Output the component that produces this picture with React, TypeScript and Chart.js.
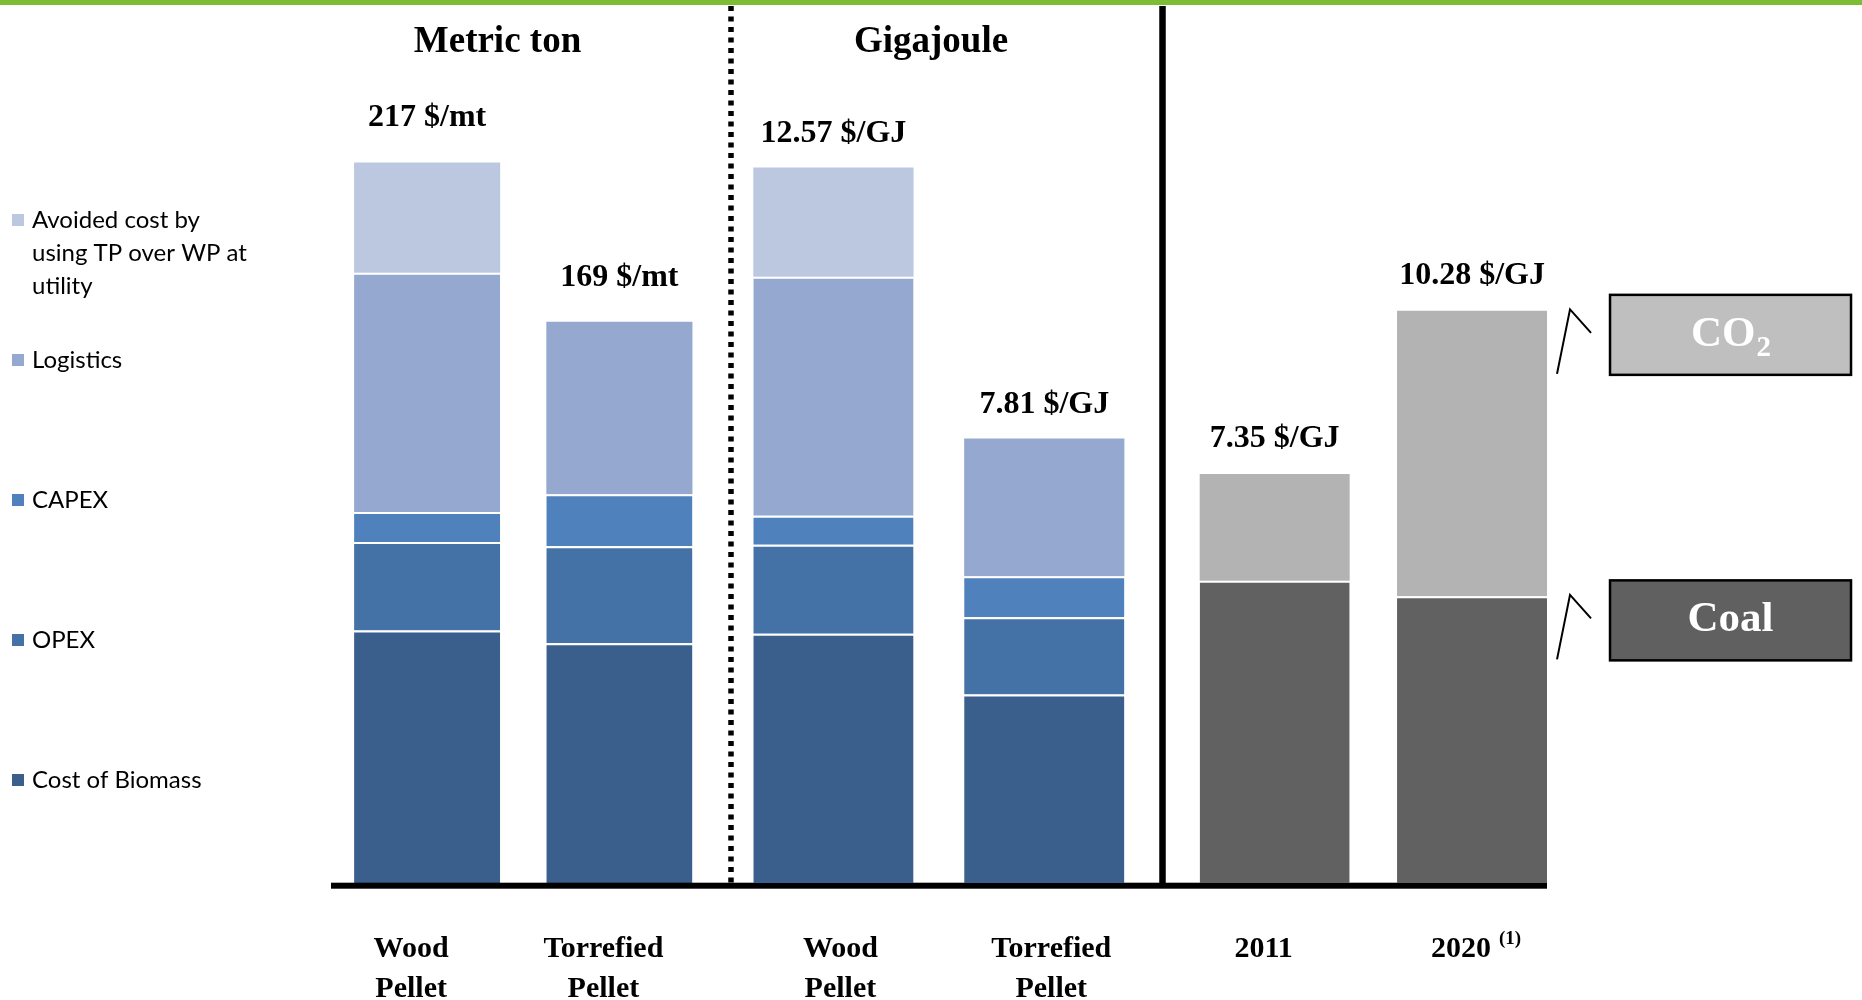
import React, { useEffect, useRef } from 'react';
import { Chart, registerables } from 'chart.js';

Chart.register(...registerables);

const W = 1862;
const H = 1000;
const SERIF = '"Liberation Serif", "Times New Roman", serif';
const SANS = 'Lato, "Open Sans", sans-serif';

// ---------------- data ----------------
const pelletCategories = [['Wood', 'Pellet'], ['Torrefied', 'Pellet']];
const coalCategories = ['2011', '2020'];
const coalFootnotes = ['', '(1)'];
const panelTitles = ['Metric ton', 'Gigajoule'];

const costSeries = [
  'Cost of Biomass',
  'OPEX',
  'CAPEX',
  'Logistics',
  'Avoided cost by using TP over WP at utility',
];

// $ per metric ton
const biomassPerTon = [76.0, 72.2];
const opexPerTon = [26.7, 29.2];
const capexPerTon = [9.0, 15.7];
const logisticsPerTon = [72.1, 51.9];
const avoidedPerTon = [33.2, 0];

// $ per gigajoule
const biomassPerGJ = [4.38, 3.31];
const opexPerGJ = [1.56, 1.36];
const capexPerGJ = [0.51, 0.72];
const logisticsPerGJ = [4.2, 2.42];
const avoidedPerGJ = [1.92, 0];

// coal reference, $ per gigajoule
const coalSeries = ['Coal', 'CO\u2082'];
const coalCost = [5.43, 5.15];
const co2Cost = [1.92, 5.13];

// ---------------- styles ----------------
const costColors = ['#3b5f8d', '#4472a7', '#4f81bd', '#95a9d0', '#bcc8e0'];
const coalColors = ['#616161', '#b3b3b3'];
const coalBoxFills = ['#606060', '#bfbfbf'];
const TICK_SIZE = 30;
const TICK_LH = 1.31;
const TICK_PAD = 39;

const separator = (c: any) => {
  if (c.type !== 'data') return 0;
  const ds = c.chart.data.datasets;
  for (let k = c.datasetIndex + 1; k < ds.length; k++) {
    const v = ds[k].data[c.dataIndex];
    if (v != null && v > 0) return { top: 2, right: 0, bottom: 0, left: 0 };
  }
  return 0;
};

const totalsPlugin = {
  id: 'totals',
  afterDatasetsDraw(chart: any, _args: any, opts: any) {
    const c = chart.ctx;
    const n = chart.data.labels.length;
    c.save();
    c.font = `bold 32px ${SERIF}`;
    c.fillStyle = '#000';
    c.textAlign = 'center';
    c.textBaseline = 'alphabetic';
    for (let i = 0; i < n; i++) {
      let total = 0;
      let topY = Infinity;
      let x = 0;
      chart.data.datasets.forEach((ds: any, d: number) => {
        const v = ds.data[i];
        if (v == null) return;
        total += v;
        const el = chart.getDatasetMeta(d).data[i];
        if (el && el.y < topY) {
          topY = el.y;
          x = el.x;
        }
      });
      c.fillText(`${total.toFixed(opts.decimals)} ${opts.unit}`, x, topY - opts.offset);
    }
    c.restore();
  },
};

function wrapText(c: CanvasRenderingContext2D, text: string, maxW: number) {
  const words = text.split(' ');
  const lines: string[] = [];
  let cur = '';
  words.forEach((w) => {
    const t = cur ? cur + ' ' + w : w;
    if (c.measureText(t).width > maxW && cur) {
      lines.push(cur);
      cur = w;
    } else cur = t;
  });
  if (cur) lines.push(cur);
  return lines;
}

const decorPlugin = {
  id: 'decor',
  afterDraw(chart: any) {
    const c = chart.ctx as CanvasRenderingContext2D;
    c.save();
    // top green rule
    c.fillStyle = '#7cbd34';
    c.fillRect(0, 0, W, 5);
    // dotted divider
    c.strokeStyle = '#000';
    c.lineWidth = 5.5;
    c.setLineDash([5, 5.5]);
    c.beginPath();
    c.moveTo(731, 6);
    c.lineTo(731, 883);
    c.stroke();
    // solid divider
    c.setLineDash([]);
    c.lineWidth = 6.5;
    c.beginPath();
    c.moveTo(1162.5, 6);
    c.lineTo(1162.5, 884);
    c.stroke();
    // baseline
    c.fillStyle = '#000';
    c.fillRect(331, 882.7, 1547 - 331, 6);
    // panel titles
    c.font = `bold 37px ${SERIF}`;
    c.textAlign = 'center';
    c.textBaseline = 'alphabetic';
    c.fillText(panelTitles[0], 497.5, 52);
    c.fillText(panelTitles[1], 931, 52);
    // legend
    const items = chart.data.datasets
      .map((d: any) => ({ label: d.label, color: d.backgroundColor }))
      .reverse();
    c.font = `24px ${SANS}`;
    c.textAlign = 'left';
    items.forEach((it: any, i: number) => {
      const cy = 220 + i * 140;
      c.fillStyle = it.color;
      c.fillRect(12, cy - 6, 12, 12);
      c.fillStyle = '#000';
      const lines = wrapText(c, it.label, 225);
      lines.forEach((ln, j) => c.fillText(ln, 32, cy + 7.5 + j * 33));
    });
    c.restore();
  },
};

const footnotePlugin = {
  id: 'footnotes',
  afterDraw(chart: any) {
    const c = chart.ctx as CanvasRenderingContext2D;
    const sx = chart.scales.x;
    const offset = sx.options.ticks.labelOffset || 0;
    const mid = sx.top + TICK_PAD + (TICK_SIZE * TICK_LH) / 2;
    const baseline = mid + 0.3375 * TICK_SIZE;
    c.save();
    c.fillStyle = '#000';
    c.textBaseline = 'alphabetic';
    c.textAlign = 'left';
    coalFootnotes.forEach((note, i) => {
      if (!note) return;
      c.font = `bold ${TICK_SIZE}px ${SERIF}`;
      const w = c.measureText(String(chart.data.labels[i])).width;
      const x = sx.getPixelForTick(i) + offset + w / 2 + 8;
      c.font = `bold 19px ${SERIF}`;
      c.fillText(note, x, baseline - 7.7);
    });
    c.restore();
  },
};

const calloutPlugin = {
  id: 'callouts',
  afterDatasetsDraw(chart: any) {
    const c = chart.ctx as CanvasRenderingContext2D;
    c.save();
    chart.data.datasets.forEach((ds: any, d: number) => {
      const meta = chart.getDatasetMeta(d);
      const el = meta.data[meta.data.length - 1];
      const right = el.x + el.width / 2;
      const top = el.y;
      c.strokeStyle = '#000';
      c.lineWidth = 2;
      c.beginPath();
      c.moveTo(right + 10, top + 63);
      c.lineTo(right + 23, top - 1.5);
      c.lineTo(right + 44, top + 22);
      c.stroke();
      const bx = right + 63;
      const by = top - 16;
      const bw = 241;
      const bh = 80;
      c.fillStyle = coalBoxFills[d];
      c.fillRect(bx, by, bw, bh);
      c.lineWidth = 2.5;
      c.strokeRect(bx, by, bw, bh);
      c.fillStyle = '#fff';
      c.textBaseline = 'alphabetic';
      c.textAlign = 'left';
      const label: string = ds.label;
      const big = `bold 43px ${SERIF}`;
      const small = `bold 29px ${SERIF}`;
      const cx = bx + bw / 2;
      const base = by + 51;
      if (label.endsWith('\u2082')) {
        const main = label.slice(0, -1);
        c.font = big;
        const w1 = c.measureText(main).width;
        c.font = small;
        const w2 = c.measureText('2').width;
        const x0 = cx - (w1 + w2) / 2;
        c.font = big;
        c.fillText(main, x0, base);
        c.font = small;
        c.fillText('2', x0 + w1 + 1, base + 10);
      } else {
        c.font = big;
        c.textAlign = 'center';
        c.fillText(label, cx, base);
      }
    });
    c.restore();
  },
};

function makeConfig(o: {
  labels: any[];
  series: string[];
  values: number[][];
  colors: string[];
  yMax: number;
  padLeft: number;
  padRight: number;
  labelOffset: number;
  totals: { unit: string; decimals: number; offset: number };
  plugins: any[];
}): any {
  return {
    type: 'bar',
    data: {
      labels: o.labels,
      datasets: o.series.map((name, k) => ({
        label: name,
        data: o.values[k],
        backgroundColor: o.colors[k],
        borderColor: '#ffffff',
        borderWidth: separator,
        borderSkipped: false,
        barPercentage: 0.76,
        categoryPercentage: 1,
      })),
    },
    plugins: [totalsPlugin, ...o.plugins],
    options: {
      responsive: false,
      maintainAspectRatio: false,
      animation: false,
      events: [],
      layout: { padding: { left: o.padLeft, right: o.padRight, top: 86, bottom: 0 } },
      plugins: {
        legend: { display: false },
        tooltip: { enabled: false },
        totals: o.totals,
      },
      scales: {
        x: {
          stacked: true,
          offset: true,
          grid: { display: false },
          border: { display: false },
          ticks: {
            color: '#000',
            font: { family: SERIF, size: TICK_SIZE, weight: 'bold', lineHeight: TICK_LH },
            padding: TICK_PAD,
            labelOffset: o.labelOffset,
            autoSkip: false,
            maxRotation: 0,
            minRotation: 0,
          },
          afterFit: (s: any) => {
            s.height = 117;
          },
        },
        y: { stacked: true, display: false, min: 0, max: o.yMax },
      },
    },
  };
}

export default function App() {
  const r1 = useRef<HTMLCanvasElement>(null);
  const r2 = useRef<HTMLCanvasElement>(null);
  const r3 = useRef<HTMLCanvasElement>(null);

  useEffect(() => {
    const tonChart = new Chart(
      r1.current as HTMLCanvasElement,
      makeConfig({
        labels: pelletCategories,
        series: costSeries,
        values: [biomassPerTon, opexPerTon, capexPerTon, logisticsPerTon, avoidedPerTon],
        colors: costColors,
        yMax: 240,
        padLeft: 331,
        padRight: 1146.5,
        labelOffset: -16,
        totals: { unit: '$/mt', decimals: 0, offset: 36 },
        plugins: [decorPlugin],
      })
    );
    const gjChart = new Chart(
      r2.current as HTMLCanvasElement,
      makeConfig({
        labels: pelletCategories,
        series: costSeries,
        values: [biomassPerGJ, opexPerGJ, capexPerGJ, logisticsPerGJ, avoidedPerGJ],
        colors: costColors,
        yMax: 14,
        padLeft: 728,
        padRight: 712.3,
        labelOffset: 7,
        totals: { unit: '$/GJ', decimals: 2, offset: 25 },
        plugins: [],
      })
    );
    const coalChart = new Chart(
      r3.current as HTMLCanvasElement,
      makeConfig({
        labels: coalCategories,
        series: coalSeries,
        values: [coalCost, co2Cost],
        colors: coalColors,
        yMax: 14.32,
        padLeft: 1176,
        padRight: 291.3,
        labelOffset: -11,
        totals: { unit: '$/GJ', decimals: 2, offset: 27 },
        plugins: [calloutPlugin, footnotePlugin],
      })
    );
    return () => {
      tonChart.destroy();
      gjChart.destroy();
      coalChart.destroy();
    };
  }, []);

  const cs: React.CSSProperties = { position: 'absolute', left: 0, top: 0, width: W, height: H };
  return (
    <div style={{ position: 'absolute', left: 0, top: 0, width: W, height: H, background: '#fff', overflow: 'hidden' }}>
      <canvas ref={r1} width={W} height={H} style={cs} />
      <canvas ref={r2} width={W} height={H} style={cs} />
      <canvas ref={r3} width={W} height={H} style={cs} />
    </div>
  );
}
